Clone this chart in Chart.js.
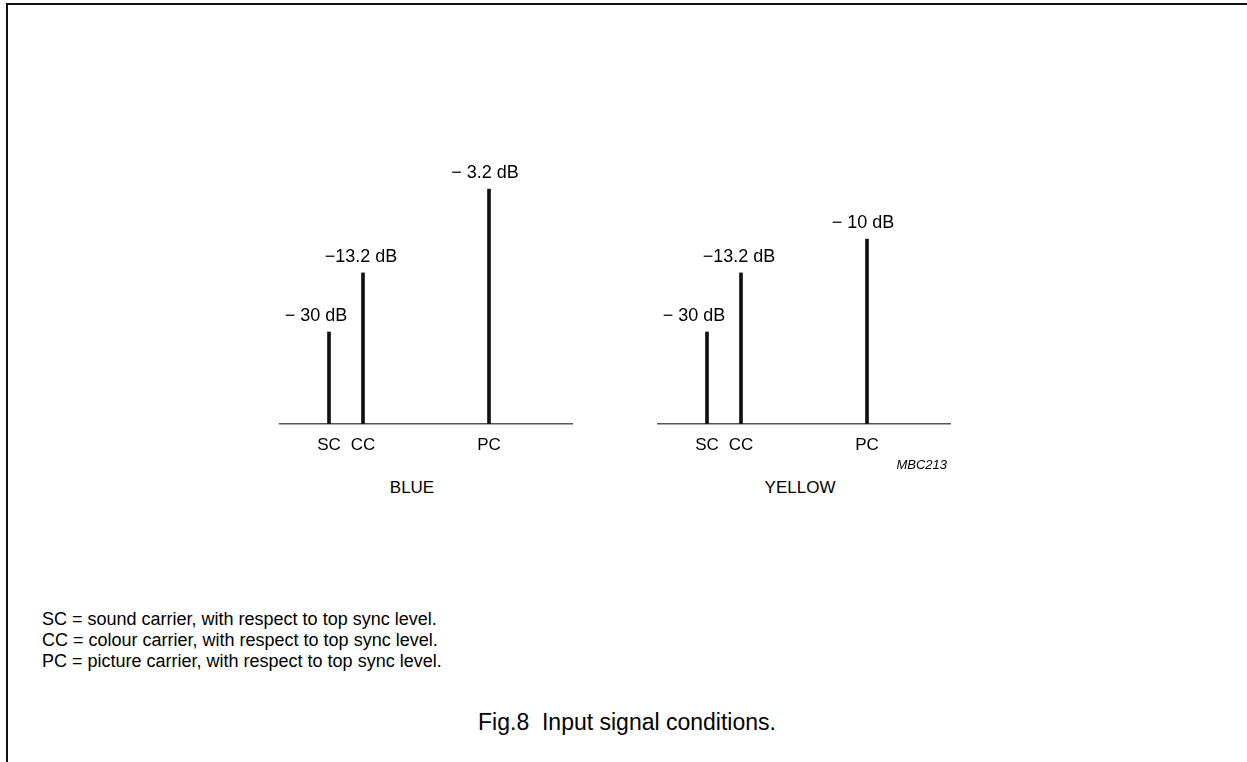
<!DOCTYPE html>
<html>
<head>
<meta charset="utf-8">
<script src="https://cdn.jsdelivr.net/npm/chart.js@4.4.1/dist/chart.umd.min.js"></script>
<style>
  html, body { margin: 0; padding: 0; background: #fff; }
  body { width: 1247px; height: 762px; position: relative; overflow: hidden;
         font-family: "Liberation Sans", Arial, Helvetica, sans-serif; color: #000; }
  .frame { position: absolute; left: 6px; top: 3px; right: -10px; bottom: -10px;
           border-left: 2px solid #111; border-top: 2px solid #111; }
  .panel { position: absolute; }
  .txt { position: absolute; white-space: pre; line-height: 1; }
  .name { font-size: 17px; transform: translate(-50%, -50%); }
  .code { font-size: 13px; font-style: italic; transform: translate(-100%, -50%); }
  .notes { position: absolute; left: 42px; top: 609px; font-size: 18px; line-height: 21px; }
  .title { font-size: 23px; transform: translate(-50%, -50%); }
</style>
</head>
<body>
<div class="frame"></div>

<div class="panel" style="left:279px; top:140px; width:294px; height:330px;"><canvas id="blueCanvas"></canvas></div>
<div class="panel" style="left:657px; top:140px; width:294px; height:330px;"><canvas id="yellowCanvas"></canvas></div>

<div class="txt name" style="left:412px; top:487px;">BLUE</div>
<div class="txt name" style="left:800px; top:487px;">YELLOW</div>
<div class="txt code" style="left:947px; top:464px;">MBC213</div>

<div class="notes">
  <div>SC = sound carrier, with respect to top sync level.</div>
  <div>CC = colour carrier, with respect to top sync level.</div>
  <div>PC = picture carrier, with respect to top sync level.</div>
</div>

<div class="txt title" style="left:627px; top:722px;">Fig.8  Input signal conditions.</div>

<script>
// ═══════════════════════════════════════
// DATA
// ═══════════════════════════════════════
const carriers = ["SC", "CC", "PC"];
const carrierPos = [50, 84, 210];          // position along the frequency axis (0–294)
const blueDb = [-30, -13.2, -3.2];
const yellowDb = [-30, -13.2, -10];
const blueLevel = [32.4, 53.2, 82.7];      // drawn height, % of plot height (schematic)
const yellowLevel = [32.4, 53.2, 65.1];
const AXIS_MAX = 294;

// label nudges (px) so the dB text sits like in the original
const labelShift = [-13, -2, -4];

function dbText(v) {
  const a = Math.abs(v);
  // the original sets a gap after the minus except for "−13.2"
  return (a === 13.2 ? "\u2212" : "\u2212 ") + a + " dB";
}

const dbLabels = {
  id: "dbLabels",
  afterDatasetsDraw(chart, args, opts) {
    const { ctx } = chart;
    const meta = chart.getDatasetMeta(0);
    ctx.save();
    ctx.font = "18px 'Liberation Sans', Arial, sans-serif";
    ctx.fillStyle = "#000";
    ctx.textAlign = "center";
    ctx.textBaseline = "middle";
    meta.data.forEach((bar, i) => {
      ctx.fillText(dbText(opts.levels[i]), bar.x + labelShift[i], bar.y - 16);
    });
    ctx.restore();
  }
};

function makeSpectrum(canvasId, levels, dbs) {
  const ctx = document.getElementById(canvasId).getContext("2d");
  return new Chart(ctx, {
    type: "bar",
    data: {
      datasets: [{
        data: carrierPos.map((x, i) => ({ x, y: levels[i] })),
        backgroundColor: "#111", borderWidth: 0,
        barThickness: 3,
      }],
    },
    options: {
      responsive: true, maintainAspectRatio: false, animation: false,
      layout: { padding: 0 },
      plugins: {
        legend: { display: false }, tooltip: { enabled: false },
        dbLabels: { levels: dbs },
      },
      scales: {
        x: {
          type: "linear", min: 0, max: AXIS_MAX, offset: false,
          grid: { display: false, drawTicks: false },
          border: { display: true, color: "#555", width: 1.5 },
          afterBuildTicks: (s) => { s.ticks = carrierPos.map(v => ({ value: v })); },
          afterFit: (s) => { s.height = 46; },
          ticks: {
            autoSkip: false, maxRotation: 0, padding: 11, color: "#000",
            font: { family: "'Liberation Sans', Arial, sans-serif", size: 17 },
            callback: (v) => carriers[carrierPos.indexOf(v)],
          },
        },
        y: { display: false, min: 0, max: 100 },
      },
    },
    plugins: [dbLabels],
  });
}

makeSpectrum("blueCanvas", blueLevel, blueDb);
makeSpectrum("yellowCanvas", yellowLevel, yellowDb);
</script>
</body>
</html>
